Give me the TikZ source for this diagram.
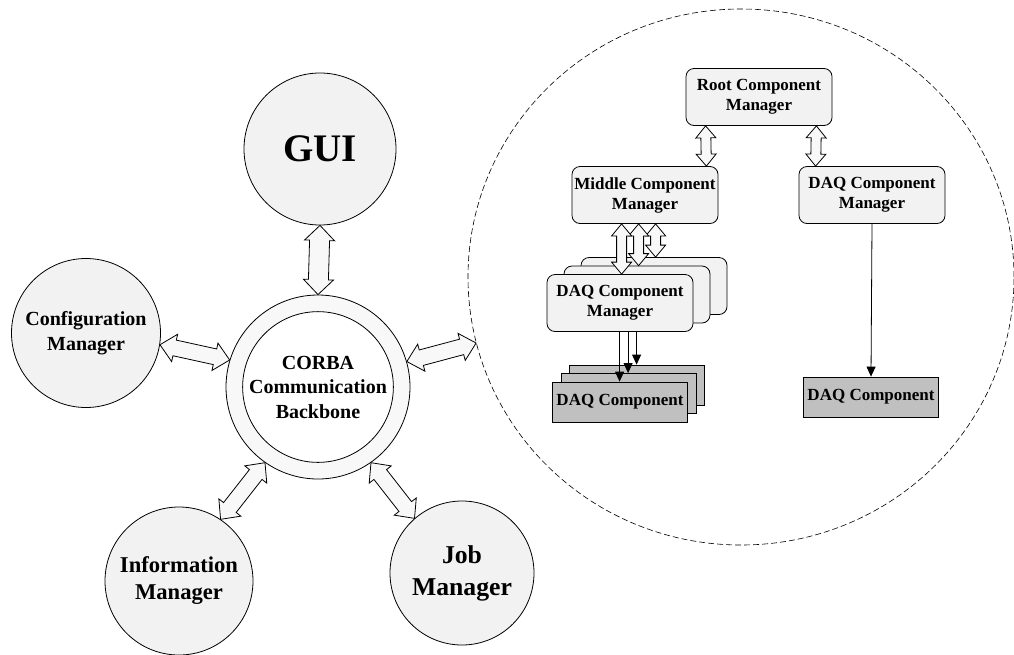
\documentclass[tikz,border=0pt]{standalone}
\usepackage{fontspec}
\setmainfont{Liberation Serif}
\usepackage{tikz}
\usetikzlibrary{calc,arrows.meta,shapes.geometric}
\definecolor{circGray}{HTML}{F2F2F2}
\definecolor{ringGray}{HTML}{F8F8F8}
\definecolor{compGray}{HTML}{C0C0C0}

% hollow double block arrow: from, to, shaft half width, head half width, head length
\newcommand{\fatarrow}[5]{%
  \coordinate (fa1) at #1;
  \coordinate (fa2) at #2;
  \coordinate (fh1) at ($(fa1)!#5!(fa2)$);
  \coordinate (fh2) at ($(fa2)!#5!(fa1)$);
  \draw[fill=ringGray, line join=miter] (fa1) -- ($(fh1)!#4!90:(fa2)$) -- ($(fh1)!#3!90:(fa2)$)
    -- ($(fh2)!#3!-90:(fa1)$) -- ($(fh2)!#4!-90:(fa1)$) -- (fa2)
    -- ($(fh2)!#4!90:(fa1)$) -- ($(fh2)!#3!90:(fa1)$)
    -- ($(fh1)!#3!-90:(fa2)$) -- ($(fh1)!#4!-90:(fa2)$) -- cycle;
}

\begin{document}
\begin{tikzpicture}[x=1pt, y=-1pt, line width=0.8pt,
    bubble/.style={circle, draw, fill=circGray, align=center, inner sep=0pt, font=\bfseries},
    mgrbox/.style={draw, rounded corners=8pt, fill=circGray, align=center, minimum width=146pt, minimum height=57pt, inner sep=0pt,
        font=\fontsize{17}{20}\selectfont\bfseries},
    compbox/.style={draw, fill=compGray, minimum width=135pt, minimum height=40pt, inner sep=0pt,
        font=\fontsize{17}{20}\selectfont\bfseries},
    thinarr/.style={-{Triangle[length=10pt,width=9pt]}}]
    \useasboundingbox (0,0) rectangle (1014,654);

    % left part: services round the backbone
    \node[bubble, minimum size=152pt, font=\fontsize{39}{44}\selectfont\bfseries] (gui) at (320,149) {GUI};
    \node[circle, draw, fill=ringGray, minimum size=184pt] (corba) at (318,387) {};
    \node[bubble, fill=white, minimum size=144pt, font=\fontsize{20}{24.5}\selectfont\bfseries] (corbain) at (318,387) {CORBA\\Communication\\Backbone};
    \node[bubble, minimum size=149pt, font=\fontsize{20}{25}\selectfont\bfseries] (config) at (86,333) {Configuration\\Manager};
    \node[bubble, minimum size=148pt, font=\fontsize{22.6}{27}\selectfont\bfseries] (info) at (179,581) {Information\\Manager};
    \node[bubble, minimum size=144pt, font=\fontsize{25.7}{32}\selectfont\bfseries] (job) at (462,573) {Job\\Manager};

    % right part: the component tree
    \node[draw, dashed, dash pattern=on 6pt off 3pt, ellipse, minimum width=546pt, minimum height=536pt, line width=0.6pt] (cluster) at (741,277) {};

    \node[mgrbox] (root) at (759,97) {Root Component\\Manager};
    \node[mgrbox] (middle) at (645,195) {Middle Component\\Manager};
    \node[mgrbox] (mgrR) at (872,195) {DAQ Component\\Manager};
    \node[compbox] (compR) at (871,397) {DAQ Component};

    \foreach \i/\dx in {3/34, 2/17}
        \node[mgrbox] (mgrA\i) at (620+\dx,303-\dx/2) {};
    \node[mgrbox] (mgrA1) at (620,303) {DAQ Component\\Manager};
    \foreach \i/\dx in {3/17, 2/8.5}
        \node[compbox] (compA\i) at (620+\dx,402-\dx) {};
    \node[compbox] (compA1) at (620,402) {DAQ Component};

    % block arrows
    \fatarrow{(gui.south)}{(corba.north)}{10pt}{15pt}{15pt}
    \fatarrow{(config.-9)}{(corba.163.5)}{8pt}{14pt}{15pt}
    \fatarrow{(corba.16)}{(cluster.194)}{8pt}{14pt}{15pt}
    \fatarrow{(info.56)}{(corba.235)}{8pt}{14pt}{15pt}
    \fatarrow{(job.131)}{(corba.-55)}{8pt}{14pt}{15pt}

    \fatarrow{([xshift=20pt]root.south west)}{([xshift=-12pt]middle.north east)}{5pt}{10pt}{12pt}
    \fatarrow{([xshift=-16pt]root.south east)}{([xshift=17pt]mgrR.north west)}{5pt}{10pt}{12pt}
    \foreach \i/\dx in {3/84, 2/67, 1/50}{
        \fatarrow{([xshift=\dx pt]middle.south west)}{([xshift=75pt]mgrA\i.north west)}{5pt}{10pt}{12pt}
    }

    \foreach \i in {1,2,3}
        \draw[thinarr] ([xshift=67.5pt]compA\i.north west |- mgrA1.south) -- ([xshift=67.5pt]compA\i.north west);
    \draw[thinarr] (mgrR.south) -- (compR.north);
\end{tikzpicture}
\end{document}
